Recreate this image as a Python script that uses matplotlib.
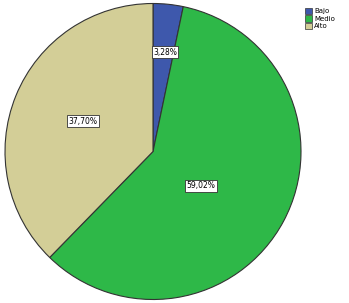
import matplotlib
matplotlib.use("Agg")
import matplotlib.pyplot as plt
import numpy as np

categories = ["Bajo", "Medio", "Alto"]
values = [3.28, 59.02, 37.70]
colors = ["#3E58AC", "#2EB848", "#D3CE97"]

fig = plt.figure(figsize=(3.49, 3.03), dpi=100)
fig.patch.set_facecolor("white")
cx, cy, r = 153, 151.5, 148
ax = fig.add_axes([(cx - r) / 349, (303 - cy - r) / 303, 2 * r / 349, 2 * r / 303])
wedges, _ = ax.pie(values, colors=colors, startangle=90, counterclock=False,
                   wedgeprops=dict(edgecolor="#333333", linewidth=0.8))
ax.set_xlim(-1, 1)
ax.set_ylim(-1, 1)
ax.set_aspect("auto")
ax.axis("off")

label_pos = [(0.081, 0.672), (0.324, -0.233), (-0.473, 0.206)]
for v, (x, y) in zip(values, label_pos):
    ax.text(x, y, f"{v:.2f}%".replace(".", ","), ha="center", va="center",
            fontsize=5.5, color="black",
            bbox=dict(boxstyle="square,pad=0.2", facecolor="white",
                      edgecolor="#333333", linewidth=0.6))

handles = [plt.Rectangle((0, 0), 1, 1, facecolor=c, edgecolor="#333333", linewidth=0.5)
           for c in colors]
fig.legend(handles, categories, loc="upper left", bbox_to_anchor=(300 / 349, 1 - 3 / 303),
           frameon=False, fontsize=5, handlelength=1.0, handleheight=1.0,
           handletextpad=0.3, labelspacing=0.15, borderpad=0.2)

fig.savefig("out.png", dpi=100)
